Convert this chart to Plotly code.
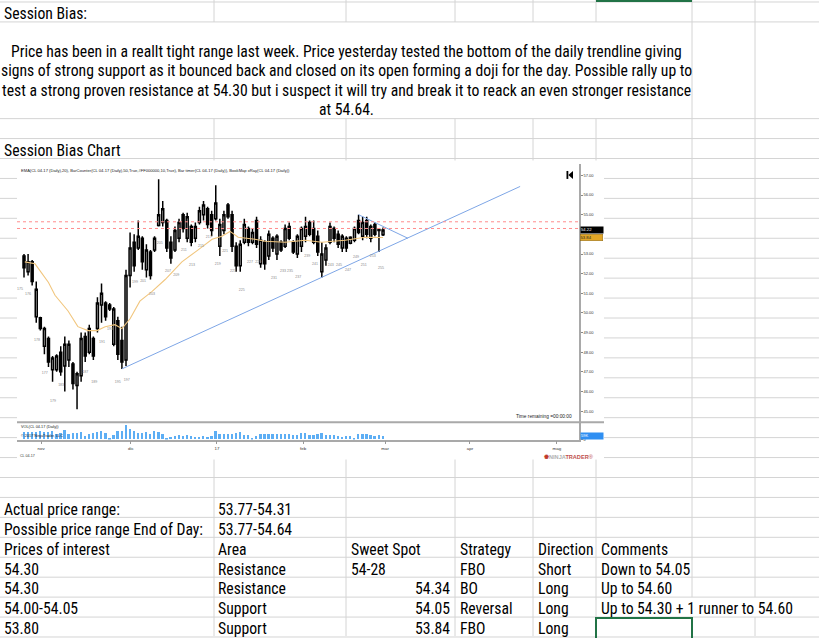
import plotly.graph_objects as go

W, H = 819, 638

# ---------------- data ----------------
bar_open = [52.9, 52.1, 52.6, 49.8, 49.75, 48.3, 48.7, 47.1, 47.1, 48.0,
            47.3, 47.6, 47.4, 46.3, 46.8, 48.8, 48.0, 48.7, 49.2, 50.4,
            50.5, 50.4, 48.4, 49.6, 48.6, 47.6, 51.9, 53.6, 53.3, 53.8,
            52.2, 53.1, 53.2, 54.45, 54.6, 54.7, 53.6, 53.2, 53.8, 55.0,
            53.8, 54.4, 53.8, 54.6, 55.0, 55.3, 55.0, 54.8, 53.4, 54.2,
            55.5, 55.0, 53.4, 52.4, 53.6, 54.3, 53.6, 54.7, 52.5, 53.6,
            52.9, 53.8, 53.0, 53.6, 53.4, 54.4, 53.6, 53.0, 53.4, 53.9,
            54.6, 54.3, 53.9, 52.1, 52.7, 53.6, 54.3, 54.0, 53.3, 53.8,
            53.55, 53.7, 54.7, 53.9, 54.7, 53.8, 54.5, 54.25, 53.98]
bar_high = [53.0, 53.0, 52.7, 51.6, 49.8, 49.3, 48.8, 47.8, 47.9, 48.3,
            48.8, 48.6, 47.5, 47.0, 49.0, 49.0, 49.4, 48.8, 50.8, 51.5,
            50.6, 50.5, 50.3, 49.8, 49.3, 52.2, 54.1, 54.0, 54.7, 53.9,
            53.5, 53.2, 53.9, 56.8, 55.7, 54.8, 53.9, 54.4, 54.8, 55.1,
            55.1, 54.5, 54.6, 55.4, 55.7, 55.4, 55.2, 56.5, 54.8, 55.2,
            55.6, 55.2, 53.6, 53.7, 54.8, 54.4, 54.3, 54.9, 53.9, 53.7,
            54.2, 53.9, 54.0, 53.7, 54.5, 54.6, 53.7, 54.0, 54.4, 54.9,
            54.7, 54.7, 54.2, 53.6, 53.5, 54.6, 54.4, 54.2, 54.0, 53.9,
            53.9, 54.4, 55.0, 54.9, 54.9, 54.5, 54.6, 54.3, 54.35]
bar_low = [51.8, 51.9, 51.4, 49.5, 49.1, 47.9, 47.25, 46.5, 47.0, 46.8,
           46.0, 47.25, 46.1, 45.1, 46.5, 47.5, 47.9, 47.6, 49.0, 49.5,
           49.6, 50.1, 48.3, 47.6, 47.15, 47.3, 51.3, 52.1, 53.2, 52.2,
           51.8, 51.7, 53.1, 54.4, 54.4, 53.1, 52.5, 53.1, 53.6, 54.1,
           53.6, 53.4, 53.6, 54.5, 54.7, 54.3, 53.9, 54.7, 52.9, 54.0,
           54.8, 53.1, 52.1, 52.1, 53.5, 53.4, 53.5, 53.3, 52.3, 52.2,
           52.7, 53.1, 52.7, 53.1, 53.3, 53.7, 53.0, 52.8, 53.1, 53.6,
           53.9, 53.5, 52.9, 51.8, 52.4, 53.5, 53.6, 53.3, 53.1, 53.1,
           53.5, 53.6, 54.0, 53.7, 53.8, 53.6, 53.9, 53.1, 53.92]
bar_close = [52.3, 52.6, 51.6, 51.2, 49.2, 49.2, 47.5, 47.7, 47.8, 47.0,
             48.4, 48.4, 46.4, 46.9, 48.7, 47.8, 49.2, 47.8, 50.5, 51.0,
             49.8, 50.2, 50.2, 47.9, 47.5, 51.9, 53.3, 52.4, 53.9, 52.6,
             53.2, 51.9, 53.8, 55.0, 55.3, 53.3, 52.8, 54.2, 54.6, 54.3,
             54.9, 53.6, 54.4, 55.2, 55.5, 54.5, 54.2, 55.6, 54.5, 55.0,
             54.9, 53.4, 52.4, 53.5, 54.5, 53.6, 54.1, 53.5, 53.7, 52.5,
             54.0, 53.3, 53.9, 53.2, 54.3, 53.8, 53.1, 53.9, 54.3, 54.4,
             54.0, 53.6, 53.1, 53.0, 53.3, 54.4, 53.8, 53.5, 53.9, 53.3,
             53.85, 54.3, 54.1, 54.6, 54.0, 54.4, 54.0, 54.2, 54.22]
bar_volume_k = [132, 144, 132, 144, 156, 144, 132, 156, 102, 114,
                174, 102, 120, 114, 132, 60, 108, 120, 132, 162,
                114, 24, 84, 162, 156, 276, 192, 150, 114, 120,
                132, 108, 150, 132, 102, 24, 48, 72, 84, 72,
                84, 72, 54, 54, 72, 54, 72, 150, 102, 102,
                108, 108, 114, 144, 90, 90, 24, 60, 102, 102,
                102, 102, 102, 108, 108, 102, 90, 90, 114, 114,
                90, 90, 102, 114, 90, 90, 84, 72, 42, 60,
                60, 30, 96, 96, 96, 84, 72, 90, 59]

ema_bar = [0.2, 2.7, 6.0, 7.6, 10.8, 13.2, 15.7, 17.9, 19.9, 22.3, 24.0, 26.0,
           28.4, 31.4, 34.6, 38.7, 42.6, 46.1, 48.5, 50.5, 52.5, 56.6, 59.1,
           64.0, 68.9, 73.0, 78.7, 83.6, 88.0]
ema_value = [52.6, 52.5, 51.55, 50.9, 50.1, 49.3, 49.1, 49.1, 49.3, 49.4, 49.2, 49.7,
             50.6, 51.1, 51.7, 52.6, 53.2, 53.75, 53.9, 54.15, 53.85, 53.75, 53.65,
             53.6, 53.7, 53.6, 53.7, 53.85, 53.84]

trend_bar = [24, 121.6]
trend_price = [47.15, 56.44]
ray_bar = [82, 94.1]
ray_price = [55.0, 53.8]
resistance_levels = [54.64, 54.30]

price_ticks = [45, 46, 47, 48, 49, 50, 51, 52, 53, 55, 56, 57]
month_labels = ["nov", "dic", "17", "feb", "mar", "apr", "mag"]
month_bar = [4.2, 26.2, 47.3, 68.4, 88.5, 109.3, 130.6]

counter_text = ["175", "176", "178", "177", "179", "183", "187", "189", "191", "193",
                "195", "197", "199", "201", "203", "205", "207", "209", "211", "213",
                "215", "217", "219", "221", "223", "225", "227", "229", "231", "233",
                "235", "237", "239", "241", "243", "245", "247", "249", "251", "253", "255"]
counter_bar = [-1.0, 1.0, 3.2, 5.1, 7.1, 9.1, 15.0, 17.2, 19.1, 21.1,
               23.0, 25.2, 27.2, 29.2, 31.4, 33.3, 35.3, 37.3, 39.2, 41.2,
               43.4, 45.3, 47.5, 49.3, 51.2, 53.4, 55.4, 57.4, 61.3, 63.5,
               65.2, 67.2, 69.4, 71.3, 75.2, 77.2, 79.4, 81.4, 83.3, 85.5, 87.5]
counter_price = [51.21, 50.96, 48.62, 46.95, 45.53, 46.34, 47.0, 46.49, 48.52, 49.18,
                 46.49, 46.59, 51.57, 51.62, 50.96, 53.55, 52.13, 51.92, 53.19, 52.43,
                 53.40, 53.85, 52.48, 53.14, 52.13, 51.16, 52.58, 52.58, 51.77, 52.13,
                 52.13, 51.82, 52.89, 52.48, 52.43, 52.43, 52.18, 52.84, 52.43, 52.89, 52.28]

last_close = 54.22
ema_last = 53.84
last_volume_k = 59

session_title = "Session Bias:"
bias_lines = [
    "Price has been in a reallt tight range last week. Price yesterday tested the bottom of the daily trendline giving",
    "signs of strong support as it bounced back and closed on its open forming a doji for the day. Possible rally up to",
    "test a strong proven resistance at 54.30 but i suspect it will try and break it to reack an even stronger resistance",
    "at 54.64.",
]
chart_title = "Session Bias Chart"
range_labels = ["Actual price range:", "Possible price range End of Day:"]
range_values = ["53.77-54.31", "53.77-54.64"]
table_header = ["Prices of interest", "Area", "Sweet Spot", "Strategy", "Direction", "Comments"]
table_rows = [
    ["54.30", "Resistance", "54-28", "FBO", "Short", "Down to 54.05"],
    ["54.30", "Resistance", "54.34", "BO", "Long", "Up to 54.60"],
    ["54.00-54.05", "Support", "54.05", "Reversal", "Long", "Up to 54.30 + 1 runner to 54.60"],
    ["53.80", "Support", "53.84", "FBO", "Long", ""],
]
indicator_label = ("EMA(CL 04-17 (Daily),20), BarCounter(CL 04-17 (Daily),50,True,#FF000000,10,True), "
                   "Bar timer(CL 04-17 (Daily)), BookMap xRay(CL 04-17 (Daily))")

# ---------------- helpers ----------------
def xp(px):
    return px / W


def yp(py):
    return 1 - py / H


EXCEL_FONT = "Roboto Condensed, Liberation Sans Narrow, Arial Narrow, sans-serif"
EXCEL_SIZE = 15.7
CHART_FONT = "Liberation Sans, Arial, sans-serif"
GRID = "#D4D4D4"

shapes = []
annotations = []


def hline(py, x0, x1, color=GRID, width=1):
    shapes.append(dict(type="line", xref="paper", yref="paper", x0=xp(x0), x1=xp(x1),
                       y0=yp(py), y1=yp(py), line=dict(color=color, width=width), layer="below"))


def vline(px, y0, y1, color=GRID, width=1):
    shapes.append(dict(type="line", xref="paper", yref="paper", x0=xp(px), x1=xp(px),
                       y0=yp(y0), y1=yp(y1), line=dict(color=color, width=width), layer="below"))


def text(px, py, s, anchor="left", size=EXCEL_SIZE, color="black", family=EXCEL_FONT):
    annotations.append(dict(xref="paper", yref="paper", x=xp(px), y=yp(py), text=s,
                            xanchor=anchor, yanchor="middle", showarrow=False,
                            font=dict(family=family, size=size, color=color)))


# ---------------- spreadsheet grid ----------------
row_lines = [2, 22, 119, 139, 159] + list(range(179, 640, 20))
for ry in row_lines:
    hline(ry, 0, W)
col_lines = [214, 346, 455, 533, 596, 692, 755]
for cx in col_lines:
    if cx in (692, 755):
        vline(cx, 0, 599)
        vline(cx, 619, H)
    else:
        vline(cx, 0, 22)
        vline(cx, 119, H)

# white picture area (the pasted chart image)
shapes.append(dict(type="rect", xref="paper", yref="paper", x0=xp(17), x1=xp(604),
                   y0=yp(461), y1=yp(161), fillcolor="white", line=dict(width=0), layer="below"))

# green selection borders
shapes.append(dict(type="line", xref="paper", yref="paper", x0=xp(596), x1=xp(692),
                   y0=yp(1), y1=yp(1), line=dict(color="#217346", width=2)))
shapes.append(dict(type="rect", xref="paper", yref="paper", x0=xp(596), x1=xp(692),
                   y0=yp(641), y1=yp(620), line=dict(color="#217346", width=2)))

# ---------------- spreadsheet text ----------------
text(2, 14, session_title)
for k, line in enumerate(bias_lines):
    text(346, [51.5, 71, 90.5, 110][k], line, anchor="center")
text(2, 151, chart_title)
for k in range(2):
    text(2, [511.5, 531.5][k], range_labels[k])
    text(216, [511.5, 531.5][k], range_values[k])
col_x = [2, 216, 349, 458, 536, 599]
for c, h in enumerate(table_header):
    text(col_x[c], 551, h)
for r, row in enumerate(table_rows):
    yy = 571 + 19.7 * r
    for c, v in enumerate(row):
        if c == 2 and v.replace(".", "").isdigit():
            text(452, yy, v, anchor="right")
        else:
            text(col_x[c], yy, v)

# ---------------- chart ----------------
bars = list(range(len(bar_open)))
y_top, y_bot = 165, 423
p_top = 57 + (176 - y_top) / 19.7
p_bot = 57 - (y_bot - 176) / 19.7
x_lo = (17 - 24) / 4.08
x_hi = (579 - 24) / 4.08

fig = go.Figure()
fig.add_trace(go.Candlestick(
    x=bars, open=bar_open, high=bar_high, low=bar_low, close=bar_close,
    increasing=dict(line=dict(color="black", width=1.5), fillcolor="#D2D2D2"),
    decreasing=dict(line=dict(color="black", width=1.5), fillcolor="black"),
    whiskerwidth=0, xaxis="x", yaxis="y", hoverinfo="skip"))
fig.add_trace(go.Scatter(x=ema_bar, y=ema_value, mode="lines",
                         line=dict(color="#F1C67E", width=1.1), xaxis="x", yaxis="y"))
fig.add_trace(go.Scatter(x=trend_bar, y=trend_price, mode="lines",
                         line=dict(color="#7EA6E6", width=1), xaxis="x", yaxis="y"))
fig.add_trace(go.Scatter(x=ray_bar, y=ray_price, mode="lines",
                         line=dict(color="#7EA6E6", width=1), xaxis="x", yaxis="y"))
fig.add_trace(go.Scatter(x=counter_bar, y=counter_price, mode="text", text=counter_text,
                         textfont=dict(family=CHART_FONT, size=3.6, color="#8A8A8A"),
                         xaxis="x", yaxis="y"))
fig.add_trace(go.Bar(x=bars, y=bar_volume_k, marker=dict(color="#5DAEF4", line=dict(width=0)),
                     width=0.45, xaxis="x2", yaxis="y2"))

for lvl in resistance_levels:
    shapes.append(dict(type="line", xref="x domain", yref="y", x0=0, x1=1, y0=lvl, y1=lvl,
                       line=dict(color="#FF8C8C", width=1, dash="dot")))

# panel separator
shapes.append(dict(type="line", xref="paper", yref="paper", x0=xp(17), x1=xp(604),
                   y0=yp(423.5), y1=yp(423.5), line=dict(color="#A9A9A9", width=2)))

# "scroll to end" icon
shapes.append(dict(type="rect", xref="paper", yref="paper", x0=xp(566.5), x1=xp(568.3),
                   y0=yp(179.5), y1=yp(171.5), fillcolor="black", line=dict(width=0)))
shapes.append(dict(type="path", xref="paper", yref="paper",
                   path=f"M {xp(568.3)},{yp(175.5)} L {xp(573)},{yp(171.5)} L {xp(573)},{yp(179.5)} Z",
                   fillcolor="black", line=dict(width=0)))

# chart texts
text(19, 171, indicator_label, size=4.1, color="#222", family=CHART_FONT)
text(574, 418, "Time remaining =00:00:00", anchor="right", size=4.8, color="#222", family=CHART_FONT)
text(19, 428.5, "VOL(CL 04-17 (Daily))", size=3.8, color="#222", family=CHART_FONT)
text(19, 437.5, "© 2017 NinjaTrader, LLC", size=3.8, color="#222", family=CHART_FONT)
text(18, 457, "CL 04-17", size=3.6, color="#333", family=CHART_FONT)
text(542, 458, "<b><span style='color:#C0392B'>✺</span><span style='color:#B0B0B0'>NINJA</span>"
     "<span style='color:#C0504D'>TRADER</span></b><span style='color:#C0504D'>®</span>",
     size=5.6, family=CHART_FONT)

annotations.append(dict(xref="paper", yref="y", x=xp(579.5), y=last_close, text=f"{last_close:.2f}",
                        xanchor="left", yanchor="middle", showarrow=False, bgcolor="black",
                        width=22, height=5.5, align="left", borderpad=0,
                        font=dict(family=CHART_FONT, size=4.2, color="white")))
annotations.append(dict(xref="paper", yref="y", x=xp(579.5), y=ema_last, text=f"{ema_last:.2f}",
                        xanchor="left", yanchor="middle", showarrow=False, bgcolor="#E3A626",
                        bordercolor="#8A6410", borderwidth=0.5,
                        width=22, height=5.5, align="left", borderpad=0,
                        font=dict(family=CHART_FONT, size=4.2, color="#222")))
annotations.append(dict(xref="paper", yref="y2", x=xp(579.5), y=last_volume_k,
                        text=f"{last_volume_k}K", xanchor="left", yanchor="middle", showarrow=False,
                        bgcolor="#2F8FF2", width=22, height=5.5, align="left", borderpad=0,
                        font=dict(family=CHART_FONT, size=4.0, color="white")))

axis_line = "#A9A9A9"
fig.update_layout(
    width=W, height=H, margin=dict(l=0, r=0, t=0, b=0),
    paper_bgcolor="white", plot_bgcolor="rgba(0,0,0,0)",
    showlegend=False, bargap=0,
    shapes=shapes, annotations=annotations,
    xaxis=dict(domain=[xp(17), xp(579)], range=[x_lo, x_hi], anchor="y",
               showticklabels=False, showgrid=False, zeroline=False, ticks="",
               rangeslider=dict(visible=False), fixedrange=True),
    yaxis=dict(domain=[yp(y_bot), yp(y_top)], range=[p_bot, p_top], anchor="x", side="right",
               showgrid=False, zeroline=False, showline=True, linecolor=axis_line, linewidth=1.5,
               tickvals=price_ticks, ticktext=[f"{v:.2f}" for v in price_ticks],
               ticks="outside", ticklen=2, tickcolor="#888", tickwidth=0.8,
               tickfont=dict(family=CHART_FONT, size=4, color="#333")),
    xaxis2=dict(domain=[xp(17), xp(579)], range=[x_lo, x_hi], anchor="y2", matches="x",
                showgrid=False, zeroline=False, showline=True, linecolor=axis_line, linewidth=1.5,
                tickvals=month_bar, ticktext=month_labels, ticks="outside", ticklen=3,
                tickcolor="#999", tickwidth=0.8,
                tickfont=dict(family=CHART_FONT, size=4.4, color="#333")),
    yaxis2=dict(domain=[yp(441), yp(424.5)], range=[0, 305], anchor="x2", side="right",
                showgrid=False, zeroline=False, showline=True, linecolor=axis_line, linewidth=1.5,
                tickvals=[0], ticktext=["0"], ticks="outside", ticklen=2, tickcolor="#888",
                tickfont=dict(family=CHART_FONT, size=3.8, color="#333")),
)

fig.write_html("out.html", config={"displayModeBar": False},
               post_script="document.body.style.margin='0';document.body.style.overflow='hidden';")
